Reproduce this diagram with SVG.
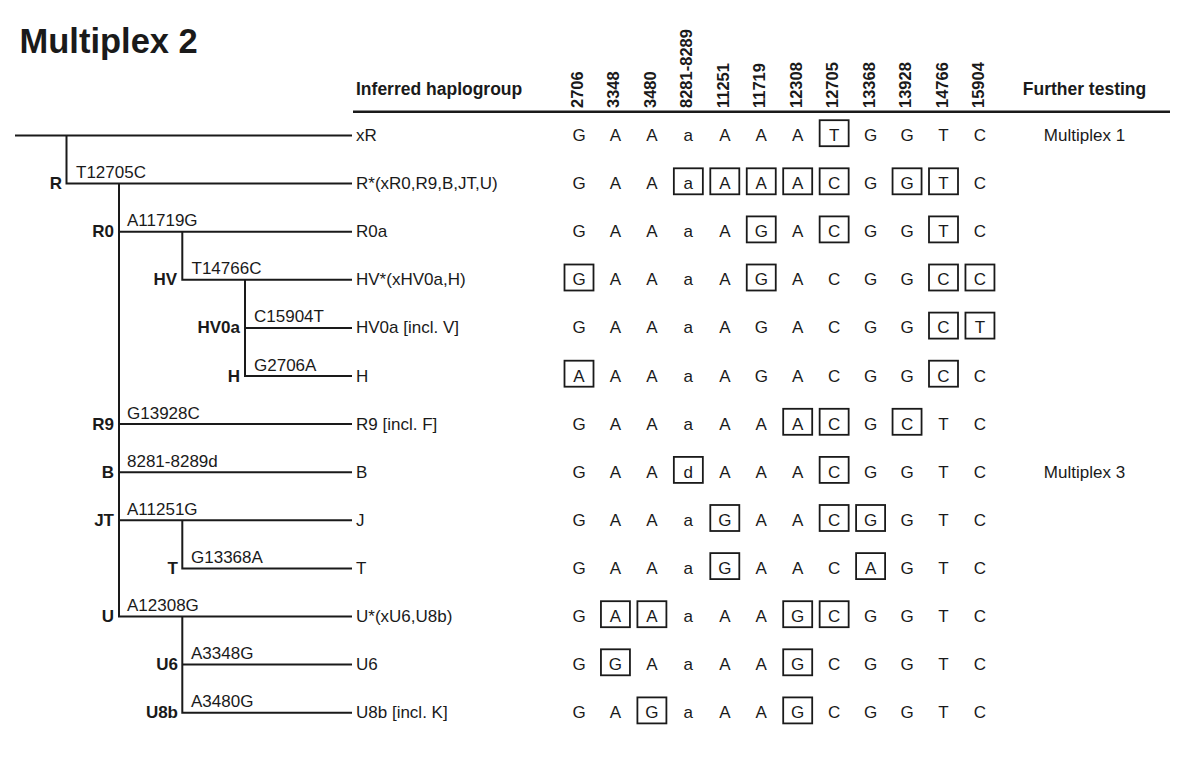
<svg xmlns="http://www.w3.org/2000/svg" width="1200" height="775" viewBox="0 0 1200 775">
<style>
text{font-family:"Liberation Sans",Arial,sans-serif;fill:#1a1a1a}
.t{font-size:34.5px;font-weight:bold}
.h{font-size:17.5px;font-weight:bold}
.hd{font-size:16.5px;font-weight:bold}
.n{font-size:17px;font-weight:bold;text-anchor:end}
.m{font-size:17px}
.hg{font-size:17px}
.d{font-size:17px;text-anchor:middle}
.ft{font-size:17px;text-anchor:middle}
.bx{fill:none;stroke:#1a1a1a;stroke-width:1.8}
</style>
<rect width="1200" height="775" fill="#fff"/>
<text class="t" x="19.5" y="53">Multiplex 2</text>
<g id="header">
<text class="h" x="356" y="95">Inferred haplogroup</text>
<text class="h" x="1084.5" y="95" text-anchor="middle">Further testing</text>
<text class="hd" transform="translate(583,108) rotate(-90)">2706</text>
<text class="hd" transform="translate(619.45,108) rotate(-90)">3348</text>
<text class="hd" transform="translate(655.9,108) rotate(-90)">3480</text>
<text class="hd" transform="translate(692.35,108) rotate(-90)">8281-8289</text>
<text class="hd" transform="translate(728.8,108) rotate(-90)">11251</text>
<text class="hd" transform="translate(765.25,108) rotate(-90)">11719</text>
<text class="hd" transform="translate(801.7,108) rotate(-90)">12308</text>
<text class="hd" transform="translate(838.15,108) rotate(-90)">12705</text>
<text class="hd" transform="translate(874.6,108) rotate(-90)">13368</text>
<text class="hd" transform="translate(911.05,108) rotate(-90)">13928</text>
<text class="hd" transform="translate(947.5,108) rotate(-90)">14766</text>
<text class="hd" transform="translate(983.95,108) rotate(-90)">15904</text>
<path d="M353,111.7H1170" stroke="#1a1a1a" stroke-width="2.5"/>
</g>
<g id="connectors" fill="none" stroke="#1a1a1a" stroke-width="2">
<path d="M15,135.5H352"/>
<path d="M66.5,135.5V183.6H352"/>
<path d="M119,183.6V616.5H352"/>
<path d="M119,231.7H352"/>
<path d="M182.3,231.7V279.8H352"/>
<path d="M245,279.8V376H352"/>
<path d="M245,327.9H352"/>
<path d="M119,424.1H352"/>
<path d="M119,472.2H352"/>
<path d="M119,520.3H352"/>
<path d="M182.3,520.3V568.4H352"/>
<path d="M182.3,616.5V712.7H352"/>
<path d="M182.3,664.6H352"/>
</g>
<g id="row-xR" transform="translate(0,135.5)">
<text class="hg" x="356" y="5.5">xR</text>
<text class="d" x="579" y="5.5">G</text><text class="d" x="615.45" y="5.5">A</text><text class="d" x="651.9" y="5.5">A</text><text class="d" x="688.35" y="5.5">a</text><text class="d" x="724.8" y="5.5">A</text><text class="d" x="761.25" y="5.5">A</text><text class="d" x="797.7" y="5.5">A</text><text class="d" x="834.15" y="5.5">T</text><text class="d" x="870.6" y="5.5">G</text><text class="d" x="907.05" y="5.5">G</text><text class="d" x="943.5" y="5.5">T</text><text class="d" x="979.95" y="5.5">C</text>
<rect class="bx" x="819.65" y="-15.3" width="29" height="26"/>
<text class="ft" x="1084.5" y="5.5">Multiplex 1</text>
</g>
<g id="row-R" transform="translate(0,183.6)">
<text class="n" x="62" y="5.5">R</text>
<text class="m" x="76" y="-5.5">T12705C</text>
<text class="hg" x="356" y="5.5">R*(xR0,R9,B,JT,U)</text>
<text class="d" x="579" y="5.5">G</text><text class="d" x="615.45" y="5.5">A</text><text class="d" x="651.9" y="5.5">A</text><text class="d" x="688.35" y="5.5">a</text><text class="d" x="724.8" y="5.5">A</text><text class="d" x="761.25" y="5.5">A</text><text class="d" x="797.7" y="5.5">A</text><text class="d" x="834.15" y="5.5">C</text><text class="d" x="870.6" y="5.5">G</text><text class="d" x="907.05" y="5.5">G</text><text class="d" x="943.5" y="5.5">T</text><text class="d" x="979.95" y="5.5">C</text>
<rect class="bx" x="673.85" y="-15.3" width="29" height="26"/><rect class="bx" x="710.3" y="-15.3" width="29" height="26"/><rect class="bx" x="746.75" y="-15.3" width="29" height="26"/><rect class="bx" x="783.2" y="-15.3" width="29" height="26"/><rect class="bx" x="819.65" y="-15.3" width="29" height="26"/><rect class="bx" x="892.55" y="-15.3" width="29" height="26"/><rect class="bx" x="929" y="-15.3" width="29" height="26"/>
</g>
<g id="row-R0" transform="translate(0,231.7)">
<text class="n" x="114" y="5.5">R0</text>
<text class="m" x="127" y="-5.5">A11719G</text>
<text class="hg" x="356" y="5.5">R0a</text>
<text class="d" x="579" y="5.5">G</text><text class="d" x="615.45" y="5.5">A</text><text class="d" x="651.9" y="5.5">A</text><text class="d" x="688.35" y="5.5">a</text><text class="d" x="724.8" y="5.5">A</text><text class="d" x="761.25" y="5.5">G</text><text class="d" x="797.7" y="5.5">A</text><text class="d" x="834.15" y="5.5">C</text><text class="d" x="870.6" y="5.5">G</text><text class="d" x="907.05" y="5.5">G</text><text class="d" x="943.5" y="5.5">T</text><text class="d" x="979.95" y="5.5">C</text>
<rect class="bx" x="746.75" y="-15.3" width="29" height="26"/><rect class="bx" x="819.65" y="-15.3" width="29" height="26"/><rect class="bx" x="929" y="-15.3" width="29" height="26"/>
</g>
<g id="row-HV" transform="translate(0,279.8)">
<text class="n" x="177" y="5.5">HV</text>
<text class="m" x="191.5" y="-5.5">T14766C</text>
<text class="hg" x="356" y="5.5">HV*(xHV0a,H)</text>
<text class="d" x="579" y="5.5">G</text><text class="d" x="615.45" y="5.5">A</text><text class="d" x="651.9" y="5.5">A</text><text class="d" x="688.35" y="5.5">a</text><text class="d" x="724.8" y="5.5">A</text><text class="d" x="761.25" y="5.5">G</text><text class="d" x="797.7" y="5.5">A</text><text class="d" x="834.15" y="5.5">C</text><text class="d" x="870.6" y="5.5">G</text><text class="d" x="907.05" y="5.5">G</text><text class="d" x="943.5" y="5.5">C</text><text class="d" x="979.95" y="5.5">C</text>
<rect class="bx" x="564.5" y="-15.3" width="29" height="26"/><rect class="bx" x="746.75" y="-15.3" width="29" height="26"/><rect class="bx" x="929" y="-15.3" width="29" height="26"/><rect class="bx" x="965.45" y="-15.3" width="29" height="26"/>
</g>
<g id="row-HV0a" transform="translate(0,327.9)">
<text class="n" x="240" y="5.5">HV0a</text>
<text class="m" x="254" y="-5.5">C15904T</text>
<text class="hg" x="356" y="5.5">HV0a [incl. V]</text>
<text class="d" x="579" y="5.5">G</text><text class="d" x="615.45" y="5.5">A</text><text class="d" x="651.9" y="5.5">A</text><text class="d" x="688.35" y="5.5">a</text><text class="d" x="724.8" y="5.5">A</text><text class="d" x="761.25" y="5.5">G</text><text class="d" x="797.7" y="5.5">A</text><text class="d" x="834.15" y="5.5">C</text><text class="d" x="870.6" y="5.5">G</text><text class="d" x="907.05" y="5.5">G</text><text class="d" x="943.5" y="5.5">C</text><text class="d" x="979.95" y="5.5">T</text>
<rect class="bx" x="929" y="-15.3" width="29" height="26"/><rect class="bx" x="965.45" y="-15.3" width="29" height="26"/>
</g>
<g id="row-H" transform="translate(0,376)">
<text class="n" x="240" y="5.5">H</text>
<text class="m" x="254" y="-5.5">G2706A</text>
<text class="hg" x="356" y="5.5">H</text>
<text class="d" x="579" y="5.5">A</text><text class="d" x="615.45" y="5.5">A</text><text class="d" x="651.9" y="5.5">A</text><text class="d" x="688.35" y="5.5">a</text><text class="d" x="724.8" y="5.5">A</text><text class="d" x="761.25" y="5.5">G</text><text class="d" x="797.7" y="5.5">A</text><text class="d" x="834.15" y="5.5">C</text><text class="d" x="870.6" y="5.5">G</text><text class="d" x="907.05" y="5.5">G</text><text class="d" x="943.5" y="5.5">C</text><text class="d" x="979.95" y="5.5">C</text>
<rect class="bx" x="564.5" y="-15.3" width="29" height="26"/><rect class="bx" x="929" y="-15.3" width="29" height="26"/>
</g>
<g id="row-R9" transform="translate(0,424.1)">
<text class="n" x="114" y="5.5">R9</text>
<text class="m" x="127" y="-5.5">G13928C</text>
<text class="hg" x="356" y="5.5">R9 [incl. F]</text>
<text class="d" x="579" y="5.5">G</text><text class="d" x="615.45" y="5.5">A</text><text class="d" x="651.9" y="5.5">A</text><text class="d" x="688.35" y="5.5">a</text><text class="d" x="724.8" y="5.5">A</text><text class="d" x="761.25" y="5.5">A</text><text class="d" x="797.7" y="5.5">A</text><text class="d" x="834.15" y="5.5">C</text><text class="d" x="870.6" y="5.5">G</text><text class="d" x="907.05" y="5.5">C</text><text class="d" x="943.5" y="5.5">T</text><text class="d" x="979.95" y="5.5">C</text>
<rect class="bx" x="783.2" y="-15.3" width="29" height="26"/><rect class="bx" x="819.65" y="-15.3" width="29" height="26"/><rect class="bx" x="892.55" y="-15.3" width="29" height="26"/>
</g>
<g id="row-B" transform="translate(0,472.2)">
<text class="n" x="114" y="5.5">B</text>
<text class="m" x="127" y="-5.5">8281-8289d</text>
<text class="hg" x="356" y="5.5">B</text>
<text class="d" x="579" y="5.5">G</text><text class="d" x="615.45" y="5.5">A</text><text class="d" x="651.9" y="5.5">A</text><text class="d" x="688.35" y="5.5">d</text><text class="d" x="724.8" y="5.5">A</text><text class="d" x="761.25" y="5.5">A</text><text class="d" x="797.7" y="5.5">A</text><text class="d" x="834.15" y="5.5">C</text><text class="d" x="870.6" y="5.5">G</text><text class="d" x="907.05" y="5.5">G</text><text class="d" x="943.5" y="5.5">T</text><text class="d" x="979.95" y="5.5">C</text>
<rect class="bx" x="673.85" y="-15.3" width="29" height="26"/><rect class="bx" x="819.65" y="-15.3" width="29" height="26"/>
<text class="ft" x="1084.5" y="5.5">Multiplex 3</text>
</g>
<g id="row-JT" transform="translate(0,520.3)">
<text class="n" x="114" y="5.5">JT</text>
<text class="m" x="127" y="-5.5">A11251G</text>
<text class="hg" x="356" y="5.5">J</text>
<text class="d" x="579" y="5.5">G</text><text class="d" x="615.45" y="5.5">A</text><text class="d" x="651.9" y="5.5">A</text><text class="d" x="688.35" y="5.5">a</text><text class="d" x="724.8" y="5.5">G</text><text class="d" x="761.25" y="5.5">A</text><text class="d" x="797.7" y="5.5">A</text><text class="d" x="834.15" y="5.5">C</text><text class="d" x="870.6" y="5.5">G</text><text class="d" x="907.05" y="5.5">G</text><text class="d" x="943.5" y="5.5">T</text><text class="d" x="979.95" y="5.5">C</text>
<rect class="bx" x="710.3" y="-15.3" width="29" height="26"/><rect class="bx" x="819.65" y="-15.3" width="29" height="26"/><rect class="bx" x="856.1" y="-15.3" width="29" height="26"/>
</g>
<g id="row-T" transform="translate(0,568.4)">
<text class="n" x="178" y="5.5">T</text>
<text class="m" x="191" y="-5.5">G13368A</text>
<text class="hg" x="356" y="5.5">T</text>
<text class="d" x="579" y="5.5">G</text><text class="d" x="615.45" y="5.5">A</text><text class="d" x="651.9" y="5.5">A</text><text class="d" x="688.35" y="5.5">a</text><text class="d" x="724.8" y="5.5">G</text><text class="d" x="761.25" y="5.5">A</text><text class="d" x="797.7" y="5.5">A</text><text class="d" x="834.15" y="5.5">C</text><text class="d" x="870.6" y="5.5">A</text><text class="d" x="907.05" y="5.5">G</text><text class="d" x="943.5" y="5.5">T</text><text class="d" x="979.95" y="5.5">C</text>
<rect class="bx" x="710.3" y="-15.3" width="29" height="26"/><rect class="bx" x="856.1" y="-15.3" width="29" height="26"/>
</g>
<g id="row-U" transform="translate(0,616.5)">
<text class="n" x="114" y="5.5">U</text>
<text class="m" x="127" y="-5.5">A12308G</text>
<text class="hg" x="356" y="5.5">U*(xU6,U8b)</text>
<text class="d" x="579" y="5.5">G</text><text class="d" x="615.45" y="5.5">A</text><text class="d" x="651.9" y="5.5">A</text><text class="d" x="688.35" y="5.5">a</text><text class="d" x="724.8" y="5.5">A</text><text class="d" x="761.25" y="5.5">A</text><text class="d" x="797.7" y="5.5">G</text><text class="d" x="834.15" y="5.5">C</text><text class="d" x="870.6" y="5.5">G</text><text class="d" x="907.05" y="5.5">G</text><text class="d" x="943.5" y="5.5">T</text><text class="d" x="979.95" y="5.5">C</text>
<rect class="bx" x="600.95" y="-15.3" width="29" height="26"/><rect class="bx" x="637.4" y="-15.3" width="29" height="26"/><rect class="bx" x="783.2" y="-15.3" width="29" height="26"/><rect class="bx" x="819.65" y="-15.3" width="29" height="26"/>
</g>
<g id="row-U6" transform="translate(0,664.6)">
<text class="n" x="178" y="5.5">U6</text>
<text class="m" x="191" y="-5.5">A3348G</text>
<text class="hg" x="356" y="5.5">U6</text>
<text class="d" x="579" y="5.5">G</text><text class="d" x="615.45" y="5.5">G</text><text class="d" x="651.9" y="5.5">A</text><text class="d" x="688.35" y="5.5">a</text><text class="d" x="724.8" y="5.5">A</text><text class="d" x="761.25" y="5.5">A</text><text class="d" x="797.7" y="5.5">G</text><text class="d" x="834.15" y="5.5">C</text><text class="d" x="870.6" y="5.5">G</text><text class="d" x="907.05" y="5.5">G</text><text class="d" x="943.5" y="5.5">T</text><text class="d" x="979.95" y="5.5">C</text>
<rect class="bx" x="600.95" y="-15.3" width="29" height="26"/><rect class="bx" x="783.2" y="-15.3" width="29" height="26"/>
</g>
<g id="row-U8b" transform="translate(0,712.7)">
<text class="n" x="178" y="5.5">U8b</text>
<text class="m" x="191" y="-5.5">A3480G</text>
<text class="hg" x="356" y="5.5">U8b [incl. K]</text>
<text class="d" x="579" y="5.5">G</text><text class="d" x="615.45" y="5.5">A</text><text class="d" x="651.9" y="5.5">G</text><text class="d" x="688.35" y="5.5">a</text><text class="d" x="724.8" y="5.5">A</text><text class="d" x="761.25" y="5.5">A</text><text class="d" x="797.7" y="5.5">G</text><text class="d" x="834.15" y="5.5">C</text><text class="d" x="870.6" y="5.5">G</text><text class="d" x="907.05" y="5.5">G</text><text class="d" x="943.5" y="5.5">T</text><text class="d" x="979.95" y="5.5">C</text>
<rect class="bx" x="637.4" y="-15.3" width="29" height="26"/><rect class="bx" x="783.2" y="-15.3" width="29" height="26"/>
</g>
</svg>
